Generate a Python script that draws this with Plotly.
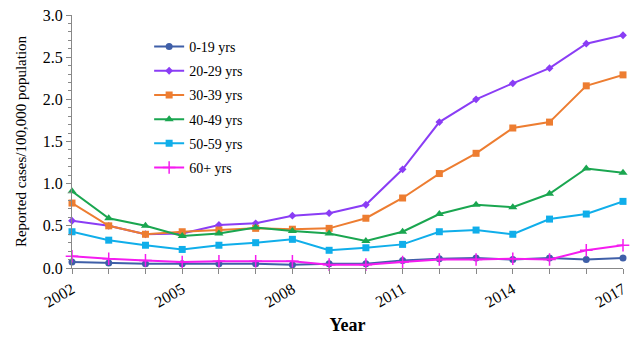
import plotly.graph_objects as go

years = list(range(2002, 2018))
age_0_19 = [0.07, 0.06, 0.05, 0.05, 0.05, 0.05, 0.04, 0.05, 0.05, 0.09, 0.11, 0.12, 0.10, 0.12, 0.10, 0.12]
age_20_29 = [0.56, 0.50, 0.40, 0.41, 0.51, 0.53, 0.62, 0.65, 0.75, 1.17, 1.73, 2.00, 2.19, 2.37, 2.66, 2.76]
age_30_39 = [0.77, 0.50, 0.40, 0.43, 0.45, 0.47, 0.46, 0.47, 0.59, 0.83, 1.12, 1.36, 1.66, 1.73, 2.16, 2.29]
age_40_49 = [0.91, 0.59, 0.50, 0.38, 0.41, 0.48, 0.44, 0.41, 0.32, 0.43, 0.64, 0.75, 0.72, 0.88, 1.18, 1.13]
age_50_59 = [0.43, 0.33, 0.27, 0.22, 0.27, 0.30, 0.34, 0.21, 0.24, 0.28, 0.43, 0.45, 0.40, 0.58, 0.64, 0.79]
age_60p = [0.14, 0.11, 0.09, 0.07, 0.08, 0.08, 0.08, 0.04, 0.04, 0.07, 0.10, 0.10, 0.11, 0.10, 0.21, 0.27]

series = [
    ("0-19 yrs", age_0_19, "#3F5FA8", "circle", 7),
    ("20-29 yrs", age_20_29, "#8A3DF5", "diamond", 6),
    ("30-39 yrs", age_30_39, "#ED7D31", "square", 7),
    ("40-49 yrs", age_40_49, "#1AA650", "triangle-up", 8),
    ("50-59 yrs", age_50_59, "#10AEEA", "square", 7),
    ("60+ yrs", age_60p, "#F51CF0", "cross-thin-open", 9),
]

fig = go.Figure()
for name, vals, color, sym, size in series:
    fig.add_trace(go.Scatter(
        x=years, y=vals, name=name, legendgroup=name, mode="lines+markers",
        line=dict(color=color, width=2),
        marker=dict(symbol=sym, size=size, color=color,
                    line=dict(color=color, width=1.5 if "thin" in sym else 0)),
        cliponaxis=False,
    ))

font_family = "Liberation Serif"
fig.update_layout(
    width=642, height=340,
    margin=dict(l=72, r=19, t=15, b=72),
    paper_bgcolor="white", plot_bgcolor="white",
    font=dict(family=font_family, size=15, color="black"),
    showlegend=True,
    legend=dict(x=0.14, y=0.937, xanchor="left", yanchor="top",
                bgcolor="rgba(0,0,0,0)", font=dict(size=14, family=font_family),
                itemwidth=30, traceorder="grouped", tracegroupgap=3),
    xaxis=dict(
        range=[2002, 2017], tickmode="array",
        tickvals=[2002, 2005, 2008, 2011, 2014, 2017],
        ticktext=["2002", "2005", "2008", "2011", "2014", "2017"],
        tickangle=-30, ticks="outside", ticklen=5, tickcolor="#888",
        showline=True, linecolor="#888", linewidth=1, showgrid=False, zeroline=False,
        minor=dict(dtick=1, ticks="outside", ticklen=5, tickcolor="#888"),
        tickfont=dict(size=16, family=font_family), automargin=False,
        title=dict(text="<b>Year</b>", font=dict(size=18, family=font_family), standoff=8),
    ),
    yaxis=dict(
        range=[0, 3.0], tickmode="linear", tick0=0, dtick=0.5, tickformat=".1f",
        ticks="outside", ticklen=5, tickcolor="#888",
        showline=True, linecolor="#888", linewidth=1, showgrid=False, zeroline=False,
        minor=dict(dtick=0.1, ticks="outside", ticklen=3, tickcolor="#888"),
        tickfont=dict(size=16, family=font_family), automargin=False,
        title=dict(text="Reported cases/100,000 population", font=dict(size=15, family=font_family), standoff=12),
    ),
)

fig.write_html("out.html")
